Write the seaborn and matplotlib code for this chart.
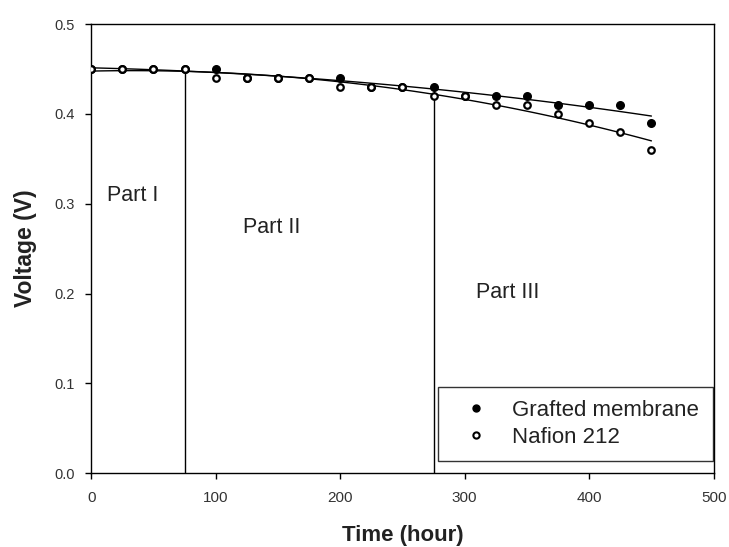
import numpy as np
import pandas as pd
import matplotlib
matplotlib.use("Agg")
import matplotlib.pyplot as plt
import seaborn as sns
from matplotlib.lines import Line2D

sns.set_theme(style="ticks")
plt.rcParams['font.family'] = ['Liberation Sans', 'DejaVu Sans']

time_h = [0, 25, 50, 75, 100, 125, 150, 175, 200, 225, 250, 275, 300, 325, 350, 375, 400, 425, 450]
grafted = [0.45, 0.45, 0.45, 0.45, 0.45, 0.44, 0.44, 0.44, 0.44, 0.43, 0.43, 0.43, 0.42, 0.42, 0.42, 0.41, 0.41, 0.41, 0.39]
nafion = [0.45, 0.45, 0.45, 0.45, 0.44, 0.44, 0.44, 0.44, 0.43, 0.43, 0.43, 0.42, 0.42, 0.41, 0.41, 0.40, 0.39, 0.38, 0.36]

part_x = [75, 275]
part_top = [0.45, 0.432]
part_labels = ["Part I", "Part II", "Part III"]
part_label_x = [13, 122, 309.5]
part_label_y = [0.3096, 0.273, 0.201]

df = pd.DataFrame({"time": time_h, "grafted": grafted, "nafion": nafion})

fig = plt.figure(figsize=(7.29, 5.47), dpi=100)
ax = fig.add_axes([0.125, 0.135, 0.854, 0.821])

sns.regplot(data=df, x="time", y="grafted", order=2, ci=None, scatter=False,
            ax=ax, line_kws=dict(color="black", lw=1.0), truncate=True)
sns.regplot(data=df, x="time", y="nafion", order=2, ci=None, scatter=False,
            ax=ax, line_kws=dict(color="black", lw=1.0), truncate=True)

sns.scatterplot(data=df, x="time", y="grafted", ax=ax, marker="o", s=30,
                color="black", edgecolor="black", linewidth=1.0, zorder=3)
sns.scatterplot(data=df, x="time", y="nafion", ax=ax, marker="o", s=22,
                color="white", edgecolor="black", linewidth=1.6, zorder=4)

ax.vlines(part_x, 0, part_top, color="black", lw=1.0)

for lbl, xx, yy in zip(part_labels, part_label_x, part_label_y):
    ax.text(xx, yy, lbl, fontsize=15.5, color="#222222", va="center", ha="left")

ax.set_xlim(0, 500)
ax.set_ylim(0, 0.5)
ax.set_xticks([0, 100, 200, 300, 400, 500])
ax.set_yticks([0.0, 0.1, 0.2, 0.3, 0.4, 0.5])
ax.set_yticklabels(["0.0", "0.1", "0.2", "0.3", "0.4", "0.5"])
ax.tick_params(axis="both", direction="out", length=4.5, width=1.0,
               colors="black", labelcolor="#333333")
ax.tick_params(axis="x", pad=8, labelsize=11)
ax.tick_params(axis="y", pad=7, labelsize=10.5)
for sp in ax.spines.values():
    sp.set_color("black")
    sp.set_linewidth(1.0)

ax.set_xlabel("Time (hour)", fontsize=16, fontweight="bold", color="#222222")
ax.set_ylabel("Voltage (V)", fontsize=16.5, fontweight="bold", color="#222222")
ax.xaxis.set_label_coords(0.5, -0.1158)
ax.yaxis.set_label_coords(-0.0867, 0.5)

handles = [
    Line2D([], [], marker="o", ls="none", markersize=5, markerfacecolor="black", markeredgecolor="black"),
    Line2D([], [], marker="o", ls="none", markersize=4.5, markerfacecolor="white", markeredgecolor="black", markeredgewidth=1.5),
]
leg = ax.legend(handles, ["Grafted membrane", "Nafion 212"], loc="lower right",
                bbox_to_anchor=(0.9984, 0.0267), borderaxespad=0, fontsize=16,
                frameon=True, fancybox=False, edgecolor="black", borderpad=0.6,
                handletextpad=0.55, labelspacing=0.25, handlelength=2.22)
leg.get_frame().set_linewidth(1.0)
for t in leg.get_texts():
    t.set_color("#222222")

fig.savefig("out.png", dpi=100)
